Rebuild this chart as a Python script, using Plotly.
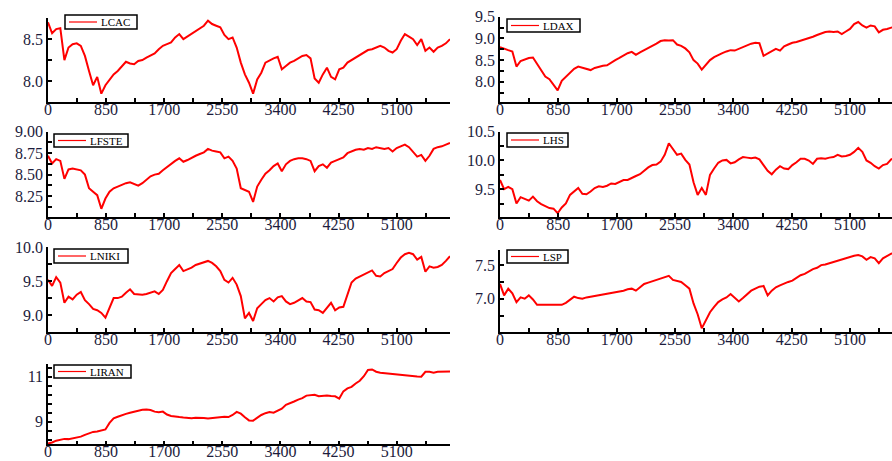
import plotly.graph_objects as go

# ---------------- data (sampled every STEP observations) ----------------
STEP = 60
x_ticks = [0, 850, 1700, 2550, 3400, 4250, 5100]

lcac = [8.70, 8.57, 8.62, 8.63, 8.25, 8.40, 8.44, 8.45, 8.42, 8.30,
        8.12, 7.95, 8.05, 7.85, 7.95, 8.02, 8.08, 8.12, 8.18, 8.23,
        8.21, 8.20, 8.24, 8.25, 8.28, 8.31, 8.33, 8.38, 8.42, 8.44,
        8.46, 8.52, 8.56, 8.50, 8.53, 8.57, 8.60, 8.63, 8.66, 8.72,
        8.68, 8.66, 8.64, 8.55, 8.50, 8.52, 8.40, 8.22, 8.08, 7.98,
        7.85, 8.02, 8.10, 8.22, 8.25, 8.27, 8.29, 8.14, 8.18, 8.22,
        8.24, 8.27, 8.30, 8.31, 8.27, 8.03, 7.98, 8.08, 8.16, 8.05,
        8.02, 8.14, 8.16, 8.22, 8.25, 8.28, 8.30, 8.34, 8.37, 8.38,
        8.40, 8.42, 8.40, 8.36, 8.34, 8.38, 8.48, 8.56, 8.53, 8.50,
        8.43, 8.50, 8.36, 8.40, 8.35, 8.40, 8.42, 8.45, 8.50]

ldax = [8.80, 8.76, 8.73, 8.70, 8.35, 8.48, 8.52, 8.55, 8.56, 8.42,
        8.28, 8.12, 8.06, 7.92, 7.80, 8.02, 8.12, 8.22, 8.30, 8.35,
        8.32, 8.30, 8.27, 8.32, 8.35, 8.37, 8.38, 8.45, 8.50, 8.55,
        8.61, 8.66, 8.69, 8.62, 8.68, 8.73, 8.77, 8.82, 8.88, 8.94,
        8.96, 8.95, 8.96, 8.86, 8.83, 8.77, 8.68, 8.50, 8.42, 8.28,
        8.38, 8.50, 8.57, 8.62, 8.66, 8.70, 8.73, 8.72, 8.76, 8.80,
        8.84, 8.88, 8.90, 8.89, 8.60, 8.66, 8.72, 8.76, 8.72, 8.82,
        8.86, 8.90, 8.92, 8.95, 8.97, 9.00, 9.04, 9.08, 9.12, 9.15,
        9.16, 9.15, 9.16, 9.10, 9.16, 9.22, 9.33, 9.38, 9.30, 9.25,
        9.30, 9.28, 9.14, 9.20, 9.22, 9.25, 9.26, 9.24, 9.27]

lfste = [8.72, 8.63, 8.68, 8.66, 8.45, 8.56, 8.57, 8.56, 8.55, 8.50,
         8.34, 8.30, 8.26, 8.10, 8.22, 8.30, 8.34, 8.36, 8.38, 8.40,
         8.41, 8.39, 8.37, 8.40, 8.44, 8.48, 8.50, 8.51, 8.55, 8.59,
         8.62, 8.66, 8.69, 8.65, 8.67, 8.70, 8.72, 8.74, 8.76, 8.80,
         8.78, 8.77, 8.76, 8.69, 8.71, 8.66, 8.57, 8.34, 8.32, 8.30,
         8.18, 8.36, 8.44, 8.51, 8.55, 8.60, 8.63, 8.54, 8.62, 8.66,
         8.68, 8.69, 8.69, 8.68, 8.66, 8.54, 8.60, 8.62, 8.58, 8.64,
         8.66, 8.68, 8.70, 8.75, 8.77, 8.79, 8.80, 8.79, 8.81, 8.80,
         8.82, 8.81, 8.80, 8.81, 8.77, 8.81, 8.83, 8.85, 8.82, 8.76,
         8.71, 8.73, 8.66, 8.72, 8.80, 8.82, 8.83, 8.85, 8.87]

lhs = [9.66, 9.50, 9.54, 9.50, 9.25, 9.36, 9.33, 9.30, 9.37, 9.29,
       9.24, 9.21, 9.17, 9.16, 9.08, 9.18, 9.25, 9.40, 9.46, 9.52,
       9.42, 9.41, 9.46, 9.52, 9.55, 9.54, 9.56, 9.60, 9.59, 9.62,
       9.66, 9.66, 9.70, 9.73, 9.76, 9.82, 9.88, 9.92, 9.93, 9.98,
       10.10, 10.30, 10.20, 10.10, 10.12, 10.01, 9.93, 9.62, 9.40, 9.52,
       9.40, 9.75, 9.86, 9.96, 10.00, 10.01, 9.95, 9.97, 10.02, 10.06,
       10.05, 10.04, 10.05, 10.02, 9.92, 9.82, 9.76, 9.84, 9.90, 9.86,
       9.85, 9.92, 9.97, 10.03, 10.03, 10.00, 9.94, 10.03, 10.04, 10.03,
       10.05, 10.06, 10.10, 10.07, 10.08, 10.10, 10.15, 10.22, 10.15, 10.00,
       9.96, 9.90, 9.86, 9.92, 9.94, 10.02, 10.05, 10.08, 10.12]

lniki = [9.52, 9.43, 9.56, 9.48, 9.18, 9.27, 9.23, 9.30, 9.34, 9.22,
         9.16, 9.09, 9.07, 9.03, 8.96, 9.12, 9.25, 9.25, 9.27, 9.33,
         9.38, 9.31, 9.30, 9.30, 9.31, 9.33, 9.35, 9.31, 9.37, 9.50,
         9.62, 9.68, 9.74, 9.65, 9.67, 9.70, 9.74, 9.76, 9.78, 9.80,
         9.77, 9.72, 9.65, 9.52, 9.48, 9.55, 9.45, 9.28, 8.95, 9.03,
         8.91, 9.10, 9.16, 9.22, 9.25, 9.20, 9.26, 9.28, 9.20, 9.16,
         9.18, 9.22, 9.25, 9.20, 9.19, 9.08, 9.07, 9.03, 9.10, 9.18,
         9.07, 9.11, 9.12, 9.30, 9.48, 9.54, 9.57, 9.60, 9.64, 9.66,
         9.58, 9.57, 9.62, 9.65, 9.68, 9.77, 9.85, 9.90, 9.92, 9.90,
         9.82, 9.86, 9.64, 9.72, 9.70, 9.71, 9.74, 9.80, 9.87]

lsp = [7.22, 7.05, 7.15, 7.08, 6.95, 7.02, 7.00, 7.05, 6.99, 6.91,
       6.91, 6.91, 6.91, 6.91, 6.91, 6.91, 6.94, 6.99, 7.03, 7.01,
       7.00, 7.02, 7.03, 7.05, 7.06, 7.07, 7.07, 7.09, 7.10, 7.11,
       7.12, 7.14, 7.15, 7.12, 7.17, 7.22, 7.24, 7.26, 7.29, 7.31,
       7.32, 7.34, 7.28, 7.27, 7.25, 7.20, 7.15, 6.93, 6.77, 6.56,
       6.68, 6.80, 6.88, 6.95, 6.99, 7.02, 7.07, 7.02, 6.96, 7.01,
       7.07, 7.12, 7.15, 7.18, 7.19, 7.05, 7.12, 7.17, 7.20, 7.23,
       7.25, 7.27, 7.31, 7.35, 7.37, 7.41, 7.44, 7.46, 7.50, 7.51,
       7.53, 7.55, 7.57, 7.59, 7.61, 7.62, 7.64, 7.65, 7.63, 7.58,
       7.62, 7.60, 7.53, 7.60, 7.63, 7.67, 7.68, 7.69, 7.71]

liran = [8.04, 8.08, 8.16, 8.21, 8.24, 8.23, 8.26, 8.28, 8.34, 8.42,
         8.50, 8.55, 8.57, 8.63, 8.66, 8.95, 9.15, 9.22, 9.30, 9.35,
         9.40, 9.44, 9.50, 9.53, 9.54, 9.52, 9.45, 9.42, 9.45, 9.32,
         9.26, 9.22, 9.21, 9.19, 9.17, 9.16, 9.18, 9.19, 9.17, 9.15,
         9.17, 9.19, 9.21, 9.22, 9.21, 9.30, 9.44, 9.36, 9.20, 9.06,
         9.05, 9.18, 9.30, 9.38, 9.43, 9.40, 9.48, 9.58, 9.75, 9.84,
         9.90, 9.98, 10.05, 10.16, 10.18, 10.20, 10.13, 10.15, 10.17, 10.14,
         10.13, 10.03, 10.35, 10.48, 10.55, 10.70, 10.82, 11.02, 11.30, 11.32,
         11.22, 11.18, 11.16, 11.14, 11.12, 11.09, 11.07, 11.04, 11.05, 11.03,
         11.01, 11.00, 11.22, 11.22, 11.18, 11.22, 11.23, 11.22, 11.23]

# ---------------- layout helpers ----------------
W, H = 892, 461
LABEL_FONT = dict(family="Liberation Serif", size=16, color="#1c1c3c")
RED = "#ff0000"

# name, values, plot box (left, right, top, bottom) px, y range, major, minor, format, x max,
# legend box (left, top, right, bottom) px
panels = [
    ("LCAC", lcac, (48, 450, 18, 101.7), [7.754, 8.752], 0.5, 0.25, ".1f", 5880, (65, 15, 137, 29)),
    ("LDAX", ldax, (500, 892, 16.7, 101.7), [7.54, 9.502], 0.5, 0.25, ".1f", 5712, (507, 19, 580, 32)),
    ("LFSTE", lfste, (48, 450, 131.7, 216.7), [8.008, 9.001], 0.25, 0.125, ".2f", 5880, (54, 134, 128, 147)),
    ("LHS", lhs, (500, 892, 131.7, 216.7), [9.02, 10.502], 0.5, 0.25, ".1f", 5712, (507, 133, 568, 147)),
    ("LNIKI", lniki, (48, 450, 247.3, 331.7), [8.752, 10.002], 0.5, 0.25, ".1f", 5880, (54, 249, 128, 263)),
    ("LSP", lsp, (500, 892, 250, 331.7), [6.51, 7.725], 0.5, 0.25, ".1f", 5712, (507, 250, 568, 263)),
    ("LIRAN", liran, (48, 450, 364.3, 444.3), [8.0, 11.55], 2, 0.4, "d", 5880, (54, 365, 131, 378)),
]

fig = go.Figure()
annotations, shapes = [], []
for i, (name, vals, (l, r, t, b), yr, major, minor, fmt, xmax, (bl, bt, br, bb)) in enumerate(panels):
    k = "" if i == 0 else str(i + 1)
    xs = [j * STEP for j in range(len(vals))]
    fig.add_trace(go.Scatter(x=xs, y=vals, mode="lines", name=name,
                             line=dict(color=RED, width=2),
                             xaxis="x" + k, yaxis="y" + k, showlegend=False))
    common = dict(showline=True, linecolor="black", linewidth=1.5, mirror=False,
                  ticks="inside", ticklen=4, tickwidth=1.5, tickcolor="black",
                  showgrid=False, zeroline=False, tickfont=LABEL_FONT, automargin=False)
    t0 = 9 if name == "LIRAN" else 0
    fig.update_layout({
        "xaxis" + k: dict(domain=[l / W, r / W], range=[0, xmax], anchor="y" + k,
                          tickmode="array", tickvals=x_ticks, ticklabelstandoff=-8,
                          minor=dict(ticks="inside", ticklen=4, tickwidth=1.5, tickcolor="black",
                                     dtick=425, tick0=0, showgrid=False),
                          **common),
        "yaxis" + k: dict(domain=[1 - b / H, 1 - t / H], range=yr, anchor="x" + k,
                          tickmode="linear", tick0=t0, dtick=major, tickformat=fmt,
                          minor=dict(ticks="inside", ticklen=4, tickwidth=1.5, tickcolor="black",
                                     dtick=minor, tick0=t0, showgrid=False),
                          **common),
    })
    # legend key: framed box, red line sample and series name
    shapes.append(dict(type="rect", xref="paper", yref="paper", layer="above",
                       x0=bl / W, x1=br / W, y0=1 - bb / H, y1=1 - bt / H,
                       line=dict(color="black", width=1.5), fillcolor="white"))
    ym = 1 - (bt + bb) / 2 / H
    shapes.append(dict(type="line", xref="paper", yref="paper", layer="above",
                       x0=(bl + 4) / W, x1=(bl + 32) / W, y0=ym, y1=ym,
                       line=dict(color=RED, width=1.2)))
    annotations.append(dict(
        x=(bl + 34) / W, y=ym, xref="paper", yref="paper", xanchor="left", yanchor="middle",
        showarrow=False, text=name,
        font=dict(family="Liberation Serif", size=11, color="black")))

fig.update_layout(width=W, height=H, margin=dict(l=0, r=0, t=0, b=0, pad=0),
                  paper_bgcolor="white", plot_bgcolor="white",
                  annotations=annotations, shapes=shapes, showlegend=False)

fig.write_html("out.html", config={"displayModeBar": False},
               post_script="document.body.style.margin='0';document.body.style.overflow='hidden';")
